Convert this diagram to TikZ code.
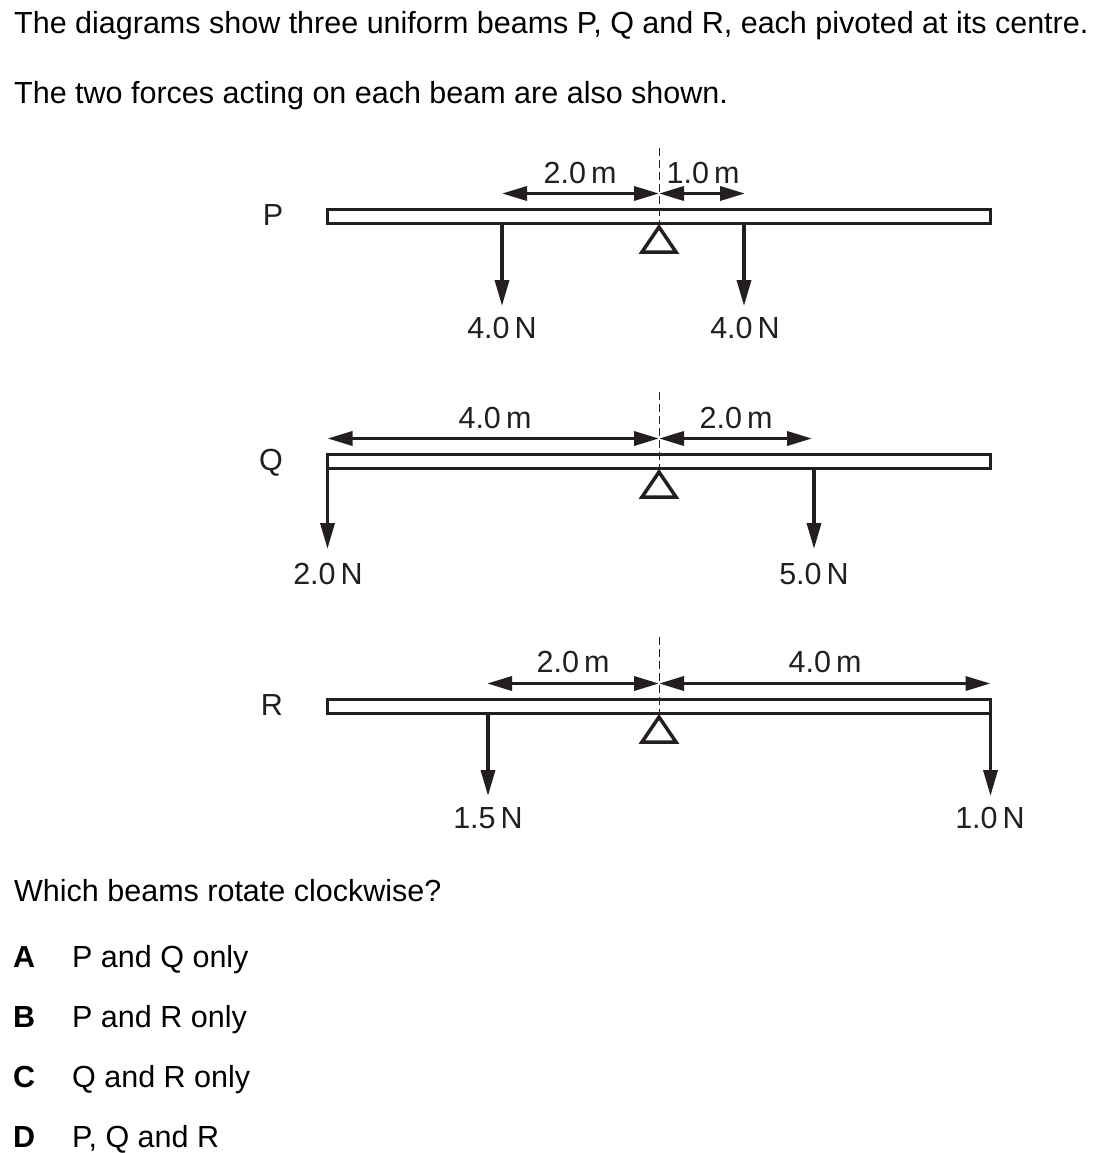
\documentclass[tikz,border=0pt]{standalone}
\usepackage{fontspec}
\setmainfont{Liberation Sans}
\usetikzlibrary{arrows.meta}
\definecolor{ink}{RGB}{35,31,32}
\begin{document}
\begin{tikzpicture}[x=1pt,y=-1pt,
  txt/.style={inner sep=0pt,font=\fontsize{30.5}{36}\selectfont,text=black},
  lbl/.style={inner sep=0pt,font=\fontsize{30.5}{36}\selectfont,text=ink,anchor=base},
  opt/.style={inner sep=0pt,font=\fontsize{30.5}{36}\selectfont\bfseries,text=black,anchor=base west},
  beam/.style={draw=ink,line width=3.5pt,fill=white,minimum width=663pt,minimum height=14pt,inner sep=0pt},
  force/.style={draw=ink,line width=3.5pt,-{Triangle[length=26pt,width=14pt]}},
  dim/.style={draw=ink,line width=3.5pt,{Triangle[length=25pt,width=14pt]}-{Triangle[length=25pt,width=14pt]}},
  pivotline/.style={draw=ink,line width=3.5pt,line join=miter},
  centreline/.style={draw=ink,line width=1pt,dash pattern=on 8pt off 4pt}]
\useasboundingbox[fill=white] (0,0) rectangle (1097,1153);

% texts
\node[txt,anchor=base west] (t1) at (14,34) {The diagrams show three uniform beams P, Q and R, each pivoted at its centre.};
\node[txt,anchor=base west] (t2) at (14,104) {The two forces acting on each beam are also shown.};

% ---------- Beam P ----------
\node[lbl] (lP) at (273,225) {P};
\node[beam] (P) at (659,216.5) {};
\coordinate (Pc) at (659,148);
\coordinate (Pa) at (659,227);
\draw[pivotline] (Pa) -- (642,252) -- (676,252) -- cycle;
\draw[centreline] (Pc) -- (Pa);
\coordinate (Pd0) at (659,193.5);
\coordinate (Pd1) at (502,193.5);
\coordinate (Pd2) at (745,193.5);
\draw[dim] (Pd1) -- (Pd0);
\draw[dim] (Pd0) -- (Pd2);
\node[lbl] (Pm1) at (580,183) {2.0\,m};
\node[lbl] (Pm2) at (703,183) {1.0\,m};
\coordinate (Pf1) at (502,223.5);
\coordinate (Pf1t) at (502,306);
\coordinate (Pf2) at (744,223.5);
\coordinate (Pf2t) at (744,306);
\draw[force] (Pf1) -- (Pf1t);
\draw[force] (Pf2) -- (Pf2t);
\node[lbl] (Pn1) at (502,338) {4.0\,N};
\node[lbl] (Pn2) at (745,338) {4.0\,N};

% ---------- Beam Q ----------
\node[lbl] (lQ) at (271,470) {Q};
\node[beam] (Q) at (659,461.5) {};
\coordinate (Qc) at (659,392);
\coordinate (Qa) at (659,472);
\draw[pivotline] (Qa) -- (642,497) -- (676,497) -- cycle;
\draw[centreline] (Qc) -- (Qa);
\coordinate (Qd0) at (659,438.5);
\coordinate (Qd1) at (327.5,438.5);
\coordinate (Qd2) at (812,438.5);
\draw[dim] (Qd1) -- (Qd0);
\draw[dim] (Qd0) -- (Qd2);
\node[lbl] (Qm1) at (495,428) {4.0\,m};
\node[lbl] (Qm2) at (736,428) {2.0\,m};
\coordinate (Qf1) at (327.5,454.5);
\coordinate (Qf1t) at (327.5,549);
\coordinate (Qf2) at (814,468.5);
\coordinate (Qf2t) at (814,549);
\draw[force] (Qf1) -- (Qf1t);
\draw[force] (Qf2) -- (Qf2t);
\node[lbl] (Qn1) at (328,584) {2.0\,N};
\node[lbl] (Qn2) at (814,584) {5.0\,N};

% ---------- Beam R ----------
\node[lbl] (lR) at (272,715) {R};
\node[beam] (R) at (659,706.5) {};
\coordinate (Rc) at (659,637);
\coordinate (Ra) at (659,717);
\draw[pivotline] (Ra) -- (642,742) -- (676,742) -- cycle;
\draw[centreline] (Rc) -- (Ra);
\coordinate (Rd0) at (659,683.5);
\coordinate (Rd1) at (487,683.5);
\coordinate (Rd2) at (990.5,683.5);
\draw[dim] (Rd1) -- (Rd0);
\draw[dim] (Rd0) -- (Rd2);
\node[lbl] (Rm1) at (573,672) {2.0\,m};
\node[lbl] (Rm2) at (825,672) {4.0\,m};
\coordinate (Rf1) at (488,713.5);
\coordinate (Rf1t) at (488,796);
\coordinate (Rf2) at (990.5,699.5);
\coordinate (Rf2t) at (990.5,796);
\draw[force] (Rf1) -- (Rf1t);
\draw[force] (Rf2) -- (Rf2t);
\node[lbl] (Rn1) at (488,828) {1.5\,N};
\node[lbl] (Rn2) at (990,828) {1.0\,N};

% ---------- question ----------
\node[txt,anchor=base west] (qq) at (14,901) {Which beams rotate clockwise?};
\node[opt] (oA) at (13,967) {A};
\node[opt] (oB) at (13,1027) {B};
\node[opt] (oC) at (13,1087) {C};
\node[opt] (oD) at (13,1147) {D};
\node[txt,anchor=base west] (aA) at (72,967) {P and Q only};
\node[txt,anchor=base west] (aB) at (72,1027) {P and R only};
\node[txt,anchor=base west] (aC) at (72,1087) {Q and R only};
\node[txt,anchor=base west] (aD) at (72,1147) {P, Q and R};
\end{tikzpicture}
\end{document}
